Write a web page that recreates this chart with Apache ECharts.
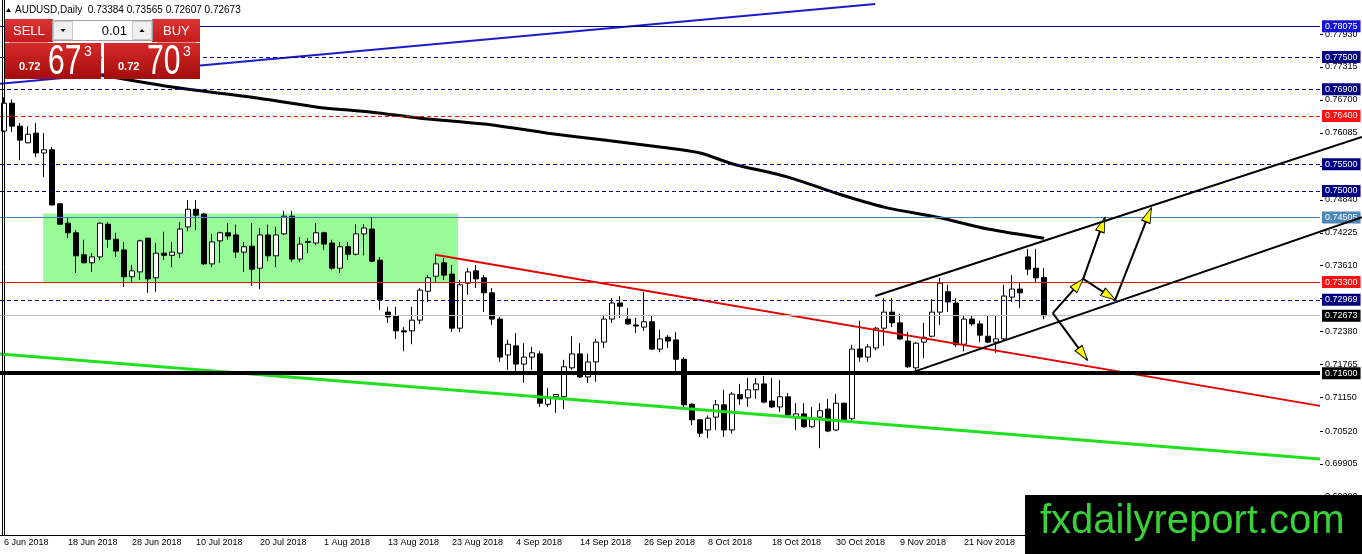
<!DOCTYPE html>
<html>
<head>
<meta charset="utf-8">
<title>AUDUSD, Daily</title>
<script src="https://cdn.jsdelivr.net/npm/echarts@6.0.0/dist/echarts.min.js"></script>
<style>
    html, body { margin: 0; padding: 0; background: #fff; }
    #chartsmain { width: 1362px; height: 554px; }
</style>
</head>
<body>
<div id="chartsmain"></div>

<script>
    // daily candles, 6 Jun 2018 .. 5 Dec 2018
    var openPrices = [
        0.7612,0.7664,0.7621,0.7590,0.7608,0.7571,0.7577,0.7476,0.7440,0.7422,
        0.7381,0.7366,0.7377,0.7438,0.7410,0.7390,0.7340,0.7349,0.7412,0.7338,
        0.7384,0.7380,0.7384,0.7433,0.7466,0.7457,0.7364,0.7407,0.7422,0.7418,
        0.7386,0.7397,0.7356,0.7418,0.7379,0.7420,0.7453,0.7373,0.7404,0.7403,
        0.7422,0.7403,0.7356,0.7396,0.7382,0.7420,0.7429,0.7371,0.7274,0.7267,
        0.7239,0.7239,0.7259,0.7313,0.7341,0.7366,0.7345,0.7244,0.7328,0.7351,
        0.7338,0.7310,0.7261,0.7194,0.7211,0.7177,0.7190,0.7196,0.7102,0.7116,
        0.7116,0.7170,0.7196,0.7153,0.7181,0.7218,0.7261,0.7291,0.7261,0.7250,
        0.7246,0.7256,0.7205,0.7227,0.7222,0.7186,0.7102,0.7073,0.7054,0.7078,
        0.7101,0.7054,0.7120,0.7114,0.7129,0.7140,0.7108,0.7097,0.7116,0.7078,
        0.7084,0.7060,0.7078,0.7093,0.7054,0.7104,0.7075,0.7205,0.7190,0.7207,
        0.7244,0.7274,0.7254,0.7220,0.7170,0.7218,0.7229,0.7274,0.7312,0.7291,
        0.7214,0.7261,0.7252,0.7229,0.7218,0.7224,0.7302,0.7317,0.7377,0.7356,
        0.73384];
    var closePrices = [
        0.7664,0.7621,0.7595,0.7606,0.7571,0.7577,0.7474,0.7438,0.7422,0.7379,
        0.7366,0.7377,0.7440,0.7410,0.7388,0.7340,0.7351,0.7407,0.7336,0.7384,
        0.7380,0.7386,0.7429,0.7466,0.7455,0.7364,0.7405,0.7422,0.7416,0.7386,
        0.7396,0.7354,0.7418,0.7379,0.7418,0.7453,0.7373,0.7401,0.7406,0.7422,
        0.7401,0.7356,0.7396,0.7382,0.7420,0.7431,0.7369,0.7297,0.7265,0.7239,
        0.7237,0.7259,0.7315,0.7338,0.7364,0.7343,0.7244,0.7325,0.7349,0.7336,
        0.7310,0.7261,0.7190,0.7214,0.7177,0.7190,0.7198,0.7104,0.7113,0.7120,
        0.7172,0.7196,0.7153,0.7181,0.7218,0.7261,0.7291,0.7285,0.7252,0.7248,
        0.7256,0.7205,0.7224,0.7220,0.7186,0.7101,0.7073,0.7048,0.7076,0.7101,
        0.7054,0.7121,0.7112,0.7129,0.7140,0.7106,0.7097,0.7116,0.7082,0.7084,
        0.7060,0.7075,0.7090,0.7052,0.7104,0.7073,0.7205,0.7190,0.7209,0.7244,
        0.7274,0.7254,0.7224,0.7172,0.7216,0.7227,0.7274,0.7328,0.7293,0.7213,
        0.7261,0.7252,0.7231,0.7218,0.7224,0.7304,0.7317,0.7310,0.7354,0.7338,
        0.72673];
    var highPrices = [
        0.7675,0.7671,0.7627,0.7621,0.7627,0.7608,0.7582,0.7477,0.7451,0.7427,
        0.7409,0.7384,0.7441,0.7442,0.7422,0.7405,0.7362,0.7409,0.7413,0.7403,
        0.7424,0.7405,0.7442,0.7483,0.7483,0.7459,0.7420,0.7424,0.7440,0.7437,
        0.7405,0.7440,0.7431,0.7437,0.7433,0.7463,0.7463,0.7414,0.7412,0.7440,
        0.7424,0.7409,0.7405,0.7405,0.7438,0.7438,0.7451,0.7377,0.7284,0.7284,
        0.7246,0.7284,0.7319,0.7343,0.7381,0.7375,0.7362,0.7334,0.7356,0.7362,
        0.7343,0.7319,0.7265,0.7222,0.7235,0.7216,0.7209,0.7201,0.7132,0.7121,
        0.7185,0.7229,0.7216,0.7196,0.7224,0.7269,0.7300,0.7304,0.7282,0.7263,
        0.7312,0.7269,0.7241,0.7231,0.7237,0.7190,0.7104,0.7074,0.7081,0.7110,
        0.7129,0.7125,0.7140,0.7151,0.7151,0.7155,0.7151,0.7147,0.7123,0.7104,
        0.7104,0.7097,0.7104,0.7112,0.7121,0.7105,0.7213,0.7258,0.7214,0.7246,
        0.7300,0.7300,0.7271,0.7237,0.7218,0.7254,0.7298,0.7338,0.7325,0.7300,
        0.7267,0.7267,0.7258,0.7269,0.7269,0.7325,0.7343,0.7328,0.7392,0.7392,
        0.73565];
    var lowPrices = [
        0.7610,0.7610,0.7558,0.7589,0.7563,0.7526,0.7473,0.7437,0.7412,0.7347,
        0.7365,0.7349,0.7371,0.7394,0.7377,0.7321,0.7328,0.7334,0.7310,0.7312,
        0.7371,0.7358,0.7375,0.7425,0.7427,0.7362,0.7358,0.7366,0.7409,0.7375,
        0.7349,0.7323,0.7317,0.7369,0.7358,0.7418,0.7368,0.7368,0.7384,0.7399,
        0.7390,0.7353,0.7347,0.7371,0.7380,0.7380,0.7367,0.7278,0.7254,0.7224,
        0.7201,0.7214,0.7252,0.7293,0.7330,0.7334,0.7237,0.7237,0.7306,0.7319,
        0.7274,0.7250,0.7181,0.7166,0.7162,0.7142,0.7166,0.7097,0.7097,0.7086,
        0.7093,0.7166,0.7151,0.7142,0.7144,0.7207,0.7254,0.7263,0.7250,0.7235,
        0.7239,0.7203,0.7199,0.7207,0.7160,0.7097,0.7063,0.7041,0.7039,0.7054,
        0.7041,0.7047,0.7101,0.7097,0.7112,0.7104,0.7095,0.7088,0.7078,0.7054,
        0.7058,0.7058,0.7020,0.7050,0.7052,0.7071,0.7073,0.7181,0.7181,0.7203,
        0.7211,0.7246,0.7222,0.7170,0.7164,0.7188,0.7227,0.7250,0.7274,0.7209,
        0.7201,0.7248,0.7218,0.7216,0.7198,0.7222,0.7293,0.7282,0.7343,0.7328,
        0.72607];

    // one label every 8 bars
    var tickDates = ['6 Jun 2018','18 Jun 2018','28 Jun 2018','10 Jul 2018','20 Jul 2018','1 Aug 2018',
        '13 Aug 2018','23 Aug 2018','4 Sep 2018','14 Sep 2018','26 Sep 2018','8 Oct 2018',
        '18 Oct 2018','30 Oct 2018','9 Nov 2018','21 Nov 2018'];
    var priceTicks = [0.77930,0.77315,0.76700,0.76085,0.75470,0.74840,0.74225,0.73610,
        0.72995,0.72380,0.71765,0.71150,0.70520,0.69905,0.69290];

    // moving average, read at some bars
    var maBars = [10,21,31,39,46,52,60,68,75,82,87,91,98,104,110,117,123,130];
    var maValues = [0.7722,0.7694,0.7675,0.7657,0.7647,0.7636,0.7625,0.7608,0.7595,0.7582,
        0.7571,0.7551,0.7526,0.7496,0.7470,0.7450,0.7429,0.7412];

    // horizontal levels
    var levelValues = [0.78075,0.77500,0.76900,0.76400,0.75500,0.75000,0.74505,0.73300,0.72969,0.72673,0.71600];
    var levelKinds  = ['blue','navy','navy','red','navy','navy','steel','redsolid','navy','bid','support'];

    // drawn objects, [bar, price]
    var blueLine      = [[-0.5, 0.7700], [108.9, 0.7849]];
    var greenLine     = [[-0.5, 0.7196], [164.5, 0.7000]];
    var redLine       = [[53.9, 0.7381], [164.5, 0.7099]];
    var channelTop    = [[108.9, 0.7304], [169.75, 0.7601]];
    var channelBottom = [[113.6, 0.7162], [169.75, 0.7451]];
    var boxCorners    = [[4.9, 0.7458], [56.75, 0.7330]];
    var arrowFrom = [[131.1, 0.7272], [134.9, 0.7336], [134.9, 0.7336], [138.9, 0.7297], [131.1, 0.7272]];
    var arrowTo   = [[134.9, 0.7336], [137.6, 0.7450], [138.9, 0.7297], [143.4, 0.7468], [135.4, 0.7185]];

    var slots = 165;
    var FONT = '"Liberation Sans", Arial, sans-serif';

    var cats = [];
    for (var i = 0; i < slots; i++) cats.push(String(i));
    var candleData = openPrices.map(function (o, i) {
        return [o, closePrices[i], lowPrices[i], highPrices[i]];
    });
    var maData = maBars.map(function (b, i) { return [b, maValues[i]]; });

    var kindStyle = {
        blue:     {line: {color: '#00008b', type: 'solid', width: 1}, bg: '#1515d5'},
        navy:     {line: {color: '#000080', type: [4, 3], width: 1}, bg: '#000080'},
        red:      {line: {color: '#ff0000', type: [4, 3], width: 1}, bg: '#ff1010'},
        steel:    {line: {color: '#4682b4', type: 'solid', width: 1}, bg: '#4a86b8'},
        redsolid: {line: {color: '#ee1111', type: 'solid', width: 1}, bg: '#ff1010'},
        bid:      {line: {color: '#c0c0c0', type: 'solid', width: 1}, bg: '#000000'},
        support:  {line: {color: '#000000', type: 'solid', width: 4}, bg: '#000000'}
    };
    var levelData = levelValues.map(function (v, i) {
        var s = kindStyle[levelKinds[i]];
        return {
            yAxis: v,
            lineStyle: s.line,
            label: {backgroundColor: s.bg}
        };
    });

    function trendSeries(pts, color, width) {
        return {
            type: 'line', xAxisIndex: 1, yAxisIndex: 0,
            data: pts, symbol: 'none', z: 4,
            lineStyle: {color: color, width: width}
        };
    }

    var redGrad = new echarts.graphic.LinearGradient(0, 0, 0, 1, [
        {offset: 0, color: '#d62a2a'}, {offset: 1, color: '#a40c0c'}
    ]);
    var topGrad = new echarts.graphic.LinearGradient(0, 0, 0, 1, [
        {offset: 0, color: '#dc3434'}, {offset: 1, color: '#c21c1c'}
    ]);

    var panel = [
        // left frame of the chart window
        {type: 'line', z: 60, shape: {x1: 2.5, y1: 0, x2: 2.5, y2: 535}, style: {stroke: '#000', lineWidth: 1}},
        // header
        {type: 'polygon', z: 100, shape: {points: [[6, 12], [8.5, 8], [11, 12]]}, style: {fill: '#000'}},
        {type: 'text', z: 100, x: 15, y: 10,
            style: {text: 'AUDUSD,Daily  0.73384 0.73565 0.72607 0.72673', font: '10px ' + FONT,
                fill: '#000', textVerticalAlign: 'middle'}},
        // one-click trading panel
        {type: 'rect', z: 100, shape: {x: 5, y: 19, width: 48, height: 23}, style: {fill: topGrad}},
        {type: 'rect', z: 100, shape: {x: 152, y: 19, width: 48, height: 23}, style: {fill: topGrad}},
        {type: 'rect', z: 100, shape: {x: 5, y: 43, width: 96, height: 36}, style: {fill: redGrad}},
        {type: 'rect', z: 100, shape: {x: 104, y: 43, width: 96, height: 36}, style: {fill: redGrad}},
        {type: 'line', z: 101, shape: {x1: 9, y1: 42.5, x2: 48, y2: 42.5}, style: {stroke: '#e98a8a', lineWidth: 1}},
        {type: 'line', z: 101, shape: {x1: 157, y1: 42.5, x2: 196, y2: 42.5}, style: {stroke: '#e98a8a', lineWidth: 1}},
        {type: 'rect', z: 100, shape: {x: 52.5, y: 20.5, width: 100, height: 20}, style: {fill: '#fff', stroke: '#a0a0a0'}},
        {type: 'rect', z: 101, shape: {x: 53.5, y: 21.5, width: 19, height: 18}, style: {fill: '#f0f0f0', stroke: '#c8c8c8'}},
        {type: 'rect', z: 101, shape: {x: 132.5, y: 21.5, width: 19, height: 18}, style: {fill: '#f0f0f0', stroke: '#c8c8c8'}},
        {type: 'polygon', z: 102, shape: {points: [[60.5, 29], [65.5, 29], [63, 32]]}, style: {fill: '#000'}},
        {type: 'polygon', z: 102, shape: {points: [[139.5, 32], [144.5, 32], [142, 29]]}, style: {fill: '#000'}},
        {type: 'text', z: 102, x: 127, y: 31,
            style: {text: '0.01', font: '13px ' + FONT, fill: '#000', textAlign: 'right', textVerticalAlign: 'middle'}},
        {type: 'text', z: 102, x: 13, y: 31,
            style: {text: 'SELL', font: '13px ' + FONT, fill: '#fff', textVerticalAlign: 'middle'}},
        {type: 'text', z: 102, x: 163, y: 31,
            style: {text: 'BUY', font: '13px ' + FONT, fill: '#fff', textVerticalAlign: 'middle'}},
        {type: 'text', z: 102, x: 19, y: 67,
            style: {text: '0.72', font: 'bold 11px ' + FONT, fill: '#fff', textVerticalAlign: 'middle'}},
        {type: 'text', z: 102, x: 118, y: 67,
            style: {text: '0.72', font: 'bold 11px ' + FONT, fill: '#fff', textVerticalAlign: 'middle'}},
        {type: 'text', z: 102, x: 48, y: 62, scaleX: 0.7,
            style: {text: '67', font: '43px ' + FONT, fill: '#fff', textVerticalAlign: 'middle'}},
        {type: 'text', z: 102, x: 147, y: 62, scaleX: 0.7,
            style: {text: '70', font: '43px ' + FONT, fill: '#fff', textVerticalAlign: 'middle'}},
        {type: 'text', z: 102, x: 84, y: 52,
            style: {text: '3', font: '14px ' + FONT, fill: '#fff', textVerticalAlign: 'middle'}},
        {type: 'text', z: 102, x: 183, y: 52,
            style: {text: '3', font: '14px ' + FONT, fill: '#fff', textVerticalAlign: 'middle'}},
        // watermark
        {type: 'rect', z: 110, shape: {x: 1025, y: 495, width: 337, height: 59}, style: {fill: '#000'}},
        {type: 'text', z: 111, x: 1040, y: 522,
            style: {text: 'fxdailyreport.com', font: '40px ' + FONT, fill: '#3ad03a', textVerticalAlign: 'middle'}}
    ];

    var chart = echarts.init(document.getElementById('chartsmain'));

    var option = {
        animation: false,
        backgroundColor: '#ffffff',
        grid: {left: 0, right: 42, top: 0, bottom: 19, outerBoundsMode: 'none'},
        xAxis: [
            {
                type: 'category', data: cats, boundaryGap: true,
                axisLine: {onZero: false, lineStyle: {color: '#000', width: 1}},
                axisTick: {
                    alignWithLabel: true, length: 4,
                    interval: function (i) { return i % 8 === 0; },
                    lineStyle: {color: '#000'}
                },
                axisLabel: {
                    interval: function (i) { return i % 8 === 0; },
                    formatter: function (v, i) { return tickDates[i / 8] || ''; },
                    align: 'left', margin: 3, color: '#000', fontSize: 9, fontFamily: FONT
                },
                splitLine: {show: false}
            },
            {type: 'value', min: -0.5, max: slots - 0.5, show: false}
        ],
        yAxis: [
            {
                type: 'value', position: 'right', min: 0.6858, max: 0.78565,
                splitLine: {show: false},
                axisLine: {show: true, lineStyle: {color: '#000'}},
                axisTick: {show: false},
                axisLabel: {
                    customValues: priceTicks, margin: 5, color: '#000', fontSize: 9, fontFamily: FONT,
                    formatter: function (v) { return v.toFixed(5); }
                }
            }
        ],
        series: [
            {
                // green zone + price levels
                type: 'line', xAxisIndex: 1, yAxisIndex: 0, data: [], z: 1,
                markArea: {
                    silent: true,
                    itemStyle: {color: '#98fb98'},
                    data: [[{coord: boxCorners[0]}, {coord: boxCorners[1]}]]
                },
                markLine: {
                    silent: true, symbol: ['none', 'none'], precision: 5,
                    label: {
                        position: 'end', distance: 2, color: '#fff', fontSize: 9, fontFamily: FONT,
                        padding: [2, 3, 1, 3],
                        formatter: function (p) { return Number(p.value).toFixed(5); }
                    },
                    data: levelData
                }
            },
            {
                type: 'candlestick', xAxisIndex: 0, yAxisIndex: 0,
                data: candleData, barWidth: 5, z: 3,
                itemStyle: {
                    color: '#ffffff', color0: '#000000',
                    borderColor: '#000000', borderColor0: '#000000', borderWidth: 1
                }
            },
            {
                type: 'line', xAxisIndex: 1, yAxisIndex: 0, data: maData,
                symbol: 'none', smooth: 0.3, z: 4,
                lineStyle: {color: '#000', width: 3}
            },
            trendSeries(blueLine, '#1c1cc4', 2),
            trendSeries(greenLine, '#1fe01f', 3),
            trendSeries(redLine, '#e00000', 2),
            {
                type: 'lines', coordinateSystem: 'cartesian2d', xAxisIndex: 1, yAxisIndex: 0, z: 5,
                lineStyle: {color: '#000', width: 2, opacity: 1},
                data: arrowFrom.map(function (f, i) { return {coords: [f, arrowTo[i]]}; })
            },
            {
                id: 'heads', type: 'scatter', xAxisIndex: 1, yAxisIndex: 0, z: 6,
                symbol: 'triangle', symbolSize: [9, 15],
                itemStyle: {color: '#ffff00', borderColor: '#000', borderWidth: 1, opacity: 1},
                data: []
            }
        ]
    };
    chart.setOption(option);

    var finder = {xAxisIndex: 1, yAxisIndex: 0};

    // arrow heads: a triangle at each arrow tip, turned along the shaft
    var heads = arrowFrom.map(function (f, i) {
        var p0 = chart.convertToPixel(finder, f);
        var p1 = chart.convertToPixel(finder, arrowTo[i]);
        var dx = p1[0] - p0[0], dy = p1[1] - p0[1];
        var len = Math.sqrt(dx * dx + dy * dy);
        var c = [p1[0] - dx / len * 7, p1[1] - dy / len * 7];
        return {
            value: chart.convertFromPixel(finder, c),
            symbolRotate: Math.atan2(-dy, dx) * 180 / Math.PI - 90
        };
    });

    // channel lines run on over the price scale, like in the terminal
    function channelLine(pts) {
        var a = chart.convertToPixel(finder, pts[0]);
        var b = chart.convertToPixel(finder, pts[1]);
        return {type: 'line', z: 50, shape: {x1: a[0], y1: a[1], x2: b[0], y2: b[1]},
            style: {stroke: '#000', lineWidth: 2}};
    }

    // small marks on the price scale
    var scaleTicks = priceTicks.map(function (v) {
        var y = Math.round(chart.convertToPixel(finder, [0, v])[1]) + 0.5;
        var x = chart.convertToPixel(finder, [slots - 0.5, v])[0];
        return {type: 'line', z: 5, shape: {x1: x, y1: y, x2: x + 3, y2: y}, style: {stroke: '#000', lineWidth: 1}};
    });

    chart.setOption({
        series: [{id: 'heads', data: heads}],
        graphic: [channelLine(channelTop), channelLine(channelBottom)].concat(scaleTicks, panel)
    });
</script>
</body>
</html>
